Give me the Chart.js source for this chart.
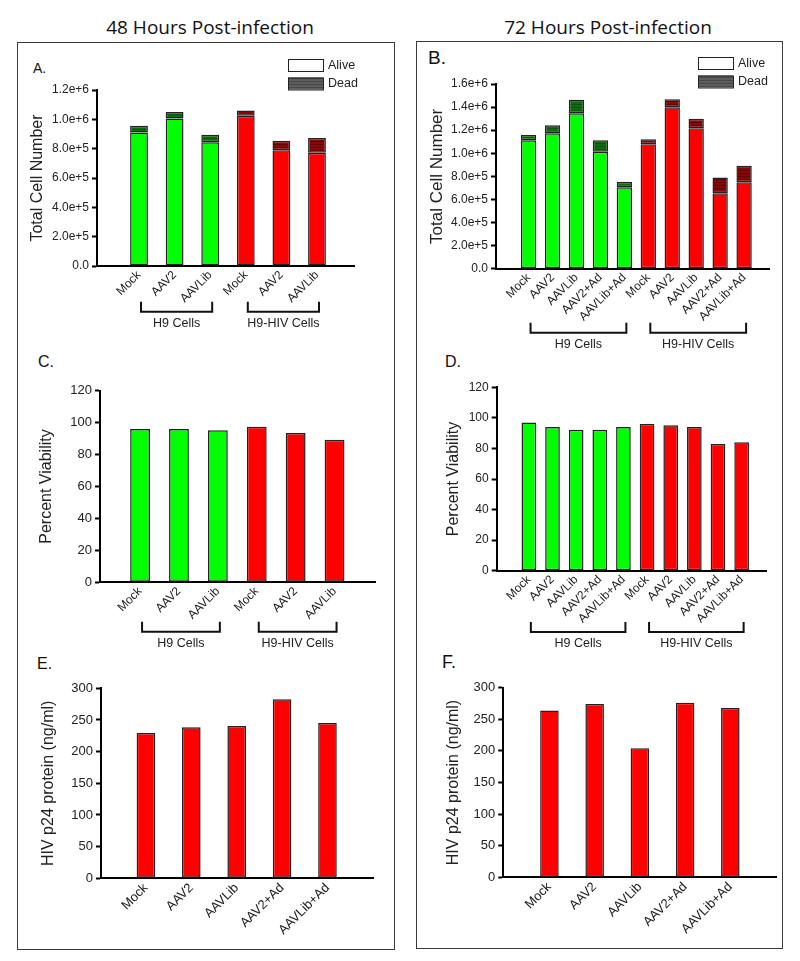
<!DOCTYPE html>
<html>
<head>
<meta charset="utf-8">
<script src="https://cdn.jsdelivr.net/npm/chart.js@4.4.1/dist/chart.umd.min.js"></script>
<style>
  body { margin: 0; width: 800px; height: 961px; background: #fff; position: relative; overflow: hidden; font-family: "Liberation Sans", Arial, sans-serif; }
  .frame { position: absolute; border: 1.5px solid #3a3a3a; box-sizing: border-box; }
  .head { position: absolute; font-family: "Open Sans", sans-serif; font-size: 19px; color: #111; transform: translate(-50%, -50%); white-space: nowrap; }
  .tag { position: absolute; color: #111; transform: translateY(-50%); }
  canvas { position: absolute; }
</style>
</head>
<body>
<div class="frame" style="left:17px;top:42px;width:378px;height:908px"></div>
<div class="frame" style="left:416px;top:41px;width:367px;height:908px"></div>
<div class="head" style="left:210px;top:27px">48 Hours Post-infection</div>
<div class="head" style="left:608px;top:27px">72 Hours Post-infection</div>
<div class="tag" style="left:33px;top:68px;font-size:14px">A.</div>
<div class="tag" style="left:428px;top:58px;font-size:19px">B.</div>
<div class="tag" style="left:38px;top:362px;font-size:16px">C.</div>
<div class="tag" style="left:445px;top:362px;font-size:16px">D.</div>
<div class="tag" style="left:37px;top:664px;font-size:16px">E.</div>
<div class="tag" style="left:442px;top:662px;font-size:18px">F.</div>
<canvas id="chartA"></canvas>
<canvas id="chartB"></canvas>
<canvas id="chartC"></canvas>
<canvas id="chartD"></canvas>
<canvas id="chartE"></canvas>
<canvas id="chartF"></canvas>
<script>
// categories
const labels48 = ["Mock", "AAV2", "AAVLib", "Mock", "AAV2", "AAVLib"]
const cells48 = ["H9 Cells", "H9 Cells", "H9 Cells", "H9-HIV Cells", "H9-HIV Cells", "H9-HIV Cells"]
const labels72 = ["Mock", "AAV2", "AAVLib", "AAV2+Ad", "AAVLib+Ad", "Mock", "AAV2", "AAVLib", "AAV2+Ad", "AAVLib+Ad"]
const cells72 = ["H9 Cells", "H9 Cells", "H9 Cells", "H9 Cells", "H9 Cells",
    "H9-HIV Cells", "H9-HIV Cells", "H9-HIV Cells", "H9-HIV Cells", "H9-HIV Cells"]
const labelsP24 = ["Mock", "AAV2", "AAVLib", "AAV2+Ad", "AAVLib+Ad"]

// A / B: total cell number (alive + dead)
const alive48 = [910000, 1005000, 843000, 1025000, 790000, 772000]
const dead48 = [47000, 45000, 52000, 36000, 64000, 100000]
const alive72 = [1112000, 1173000, 1346000, 1014000, 705000, 1077000, 1398000, 1216000, 653000, 748000]
const dead72 = [46000, 69000, 118000, 98000, 49000, 44000, 69000, 84000, 138000, 144000]

// C / D: percent viability
const viability48 = [96.0, 96.0, 95.2, 97.5, 93.5, 89.3]
const viability72 = [96.9, 94.0, 92.3, 92.3, 94.0, 96.0, 95.1, 94.0, 82.9, 84.0]

// E / F: HIV p24 protein (ng/ml)
const p24_48 = [229.5, 238.4, 240.5, 282.6, 245.3]
const p24_72 = [264.1, 274.1, 204.0, 276.2, 267.8]

const FONT = '"Liberation Sans", Arial, sans-serif'
Chart.defaults.font.family = FONT
Chart.defaults.color = "#222"

const GREEN = "#00ff00"
const RED = "#ff0000"

function hatch(base, line) {
    const c = document.createElement("canvas")
    c.width = 4
    c.height = 3
    const g = c.getContext("2d")
    g.fillStyle = base
    g.fillRect(0, 0, 4, 3)
    g.fillStyle = line
    g.fillRect(0, 2, 4, 1)
    return g.createPattern(c, "repeat")
}
const deadGreen = hatch("#0e6c0e", "#0a560a")
const deadRed = hatch("#850909", "#680202")
const deadGray = hatch("#5e5e5e", "#484848")

function groupsOf(cells) {
    const out = []
    cells.forEach((name, i) => {
        const last = out[out.length - 1]
        if (last && last.name === name) last.to = i
        else out.push({ name: name, from: i, to: i })
    })
    return out
}

function pts(values) {
    return values.map((v, i) => ({ x: i, y: v }))
}

const sci = (v) => (v === 0 ? "0.0" : v.toExponential(1))

const decor = {
    id: "panelDecor",
    afterDraw(chart, args, o) {
        const ctx = chart.ctx
        const xs = chart.scales.x
        ctx.save()
        ctx.strokeStyle = "#111"
        ctx.lineWidth = 2
        ctx.fillStyle = "#222"
        ctx.font = "12.5px " + FONT
        ctx.textAlign = "center"
        ctx.textBaseline = "middle"
        for (const g of o.groups || []) {
            const x0 = xs.getPixelForValue(g.from) + 2
            const x1 = xs.getPixelForValue(g.to) + 2
            const y = o.bracketY - o.top
            ctx.beginPath()
            ctx.moveTo(x0, y - 10)
            ctx.lineTo(x0, y)
            ctx.lineTo(x1, y)
            ctx.lineTo(x1, y - 10)
            ctx.stroke()
            ctx.fillText(g.name, (x0 + x1) / 2, y + 11.5)
        }
        if (o.legend) {
            const lx = o.legend.x - o.left
            let ly = o.legend.y - o.top
            ctx.lineWidth = 1
            ctx.textAlign = "left"
            ctx.font = "12.5px " + FONT
            ;[["Alive", "#fff"], ["Dead", deadGray]].forEach(([text, fill]) => {
                ctx.fillStyle = fill
                ctx.fillRect(lx, ly, 35, 12)
                ctx.strokeStyle = "#222"
                ctx.strokeRect(lx + 0.5, ly + 0.5, 35, 12)
                ctx.fillStyle = "#222"
                ctx.fillText(text, lx + 40, ly + 6.5)
                ly += 18.5
            })
        }
        ctx.restore()
    },
}

function panel(id, p) {
    const canvas = document.getElementById(id)
    canvas.width = p.box.width
    canvas.height = p.box.height
    canvas.style.left = p.box.left + "px"
    canvas.style.top = p.box.top + "px"
    const yWidth = p.plot.left - p.box.left
    const xHeight = p.box.top + p.box.height - p.plot.bottom
    return new Chart(canvas, {
        type: "bar",
        data: { datasets: p.datasets },
        options: {
            responsive: false,
            animation: false,
            devicePixelRatio: 1,
            layout: {
                padding: {
                    left: 0,
                    top: p.plot.top - p.box.top,
                    right: p.box.left + p.box.width - p.plot.right,
                    bottom: 0,
                },
            },
            datasets: {
                bar: {
                    barPercentage: p.barPct,
                    categoryPercentage: 1,
                    borderWidth: 1.5,
                    borderColor: "#222",
                    borderSkipped: false,
                },
            },
            plugins: {
                legend: { display: false },
                tooltip: { enabled: false },
                panelDecor: {
                    top: p.box.top,
                    left: p.box.left,
                    groups: p.groups,
                    bracketY: p.bracketY,
                    legend: p.legend,
                },
            },
            scales: {
                x: {
                    type: "linear",
                    offset: false,
                    stacked: true,
                    min: p.xRange[0],
                    max: p.xRange[1],
                    afterBuildTicks: (s) => {
                        s.ticks = p.labels.map((_, i) => ({ value: i }))
                    },
                    afterFit: (s) => {
                        s.height = xHeight
                    },
                    grid: { display: false, drawTicks: false, tickLength: 0 },
                    border: { display: true, color: "#000", width: 2 },
                    ticks: {
                        autoSkip: false,
                        minRotation: 45,
                        maxRotation: 45,
                        padding: 2,
                        color: "#222",
                        font: { size: p.xFont },
                        callback: (v) => p.labels[v],
                    },
                },
                y: {
                    min: 0,
                    max: p.yMax,
                    stacked: true,
                    afterFit: (s) => {
                        s.width = yWidth
                    },
                    grid: {
                        display: true,
                        drawOnChartArea: false,
                        drawTicks: true,
                        tickLength: 5,
                        tickWidth: 2,
                        tickColor: "#000",
                    },
                    border: { display: true, color: "#000", width: 2 },
                    ticks: {
                        stepSize: p.yStep,
                        padding: 3,
                        color: "#222",
                        font: { size: p.yFont },
                        callback: p.yFormat,
                    },
                    title: {
                        display: true,
                        text: p.yTitle,
                        color: "#222",
                        font: { size: p.titleSize },
                        padding: { top: p.titleX - p.box.left - (p.titleSize * 1.2) / 2, bottom: 0 },
                    },
                },
            },
        },
        plugins: [decor],
    })
}

const fillFor = (cells) => cells.map((c) => (c === "H9 Cells" ? GREEN : RED))
const deadFor = (cells) => cells.map((c) => (c === "H9 Cells" ? deadGreen : deadRed))

// A. 48 h total cell number
panel("chartA", {
    box: { left: 20, top: 46, width: 372, height: 292 },
    plot: { left: 97, top: 90, right: 354, bottom: 266 },
    xRange: [-1.18, 6.04],
    labels: labels48,
    datasets: [
        { label: "Alive", data: pts(alive48), backgroundColor: fillFor(cells48) },
        { label: "Dead", data: pts(dead48), backgroundColor: deadFor(cells48) },
    ],
    barPct: 0.5,
    yMax: 1200000,
    yStep: 200000,
    yFormat: sci,
    yFont: 12,
    xFont: 12,
    yTitle: "Total Cell Number",
    titleSize: 16,
    titleX: 38,
    groups: groupsOf(cells48),
    bracketY: 311.7,
    legend: { x: 288, y: 59 },
})

// B. 72 h total cell number
panel("chartB", {
    box: { left: 420, top: 45, width: 360, height: 308 },
    plot: { left: 496, top: 84, right: 769, bottom: 268.7 },
    xRange: [-1.36, 10.04],
    labels: labels72,
    datasets: [
        { label: "Alive", data: pts(alive72), backgroundColor: fillFor(cells72) },
        { label: "Dead", data: pts(dead72), backgroundColor: deadFor(cells72) },
    ],
    barPct: 0.64,
    yMax: 1600000,
    yStep: 200000,
    yFormat: sci,
    yFont: 12,
    xFont: 12,
    yTitle: "Total Cell Number",
    titleSize: 17,
    titleX: 437.7,
    groups: groupsOf(cells72),
    bracketY: 332.7,
    legend: { x: 698, y: 57 },
})

// C. 48 h viability
panel("chartC", {
    box: { left: 20, top: 372, width: 372, height: 282 },
    plot: { left: 100, top: 390.7, right: 375, bottom: 582.3 },
    xRange: [-1.03, 6.04],
    labels: labels48,
    datasets: [{ label: "Viability", data: pts(viability48), backgroundColor: fillFor(cells48) }],
    barPct: 0.51,
    yMax: 120,
    yStep: 20,
    yFont: 13,
    xFont: 12,
    yTitle: "Percent Viability",
    titleSize: 16,
    titleX: 46.7,
    groups: groupsOf(cells48),
    bracketY: 631.7,
})

// D. 72 h viability
panel("chartD", {
    box: { left: 420, top: 372, width: 360, height: 282 },
    plot: { left: 496.7, top: 387.3, right: 766.7, bottom: 570.7 },
    xRange: [-1.36, 10.06],
    labels: labels72,
    datasets: [{ label: "Viability", data: pts(viability72), backgroundColor: fillFor(cells72) }],
    barPct: 0.62,
    yMax: 120,
    yStep: 20,
    yFont: 12,
    xFont: 12,
    yTitle: "Percent Viability",
    titleSize: 16,
    titleX: 453.3,
    groups: groupsOf(cells72),
    bracketY: 632,
})

// E. 48 h p24
panel("chartE", {
    box: { left: 20, top: 670, width: 372, height: 275 },
    plot: { left: 101, top: 688.3, right: 373.3, bottom: 878.3 },
    xRange: [-0.99, 5.01],
    labels: labelsP24,
    datasets: [{ label: "p24", data: pts(p24_48), backgroundColor: RED }],
    barPct: 0.41,
    yMax: 300,
    yStep: 50,
    yFont: 13,
    xFont: 13,
    yTitle: "HIV p24 protein (ng/ml)",
    titleSize: 16,
    titleX: 48.3,
})

// F. 72 h p24
panel("chartF", {
    box: { left: 420, top: 670, width: 360, height: 275 },
    plot: { left: 503.3, top: 687.7, right: 776, bottom: 877.3 },
    xRange: [-1.02, 5.01],
    labels: labelsP24,
    datasets: [{ label: "p24", data: pts(p24_72), backgroundColor: RED }],
    barPct: 0.41,
    yMax: 300,
    yStep: 50,
    yFont: 13,
    xFont: 13,
    yTitle: "HIV p24 protein (ng/ml)",
    titleSize: 16,
    titleX: 453.3,
})
</script>
</body>
</html>
